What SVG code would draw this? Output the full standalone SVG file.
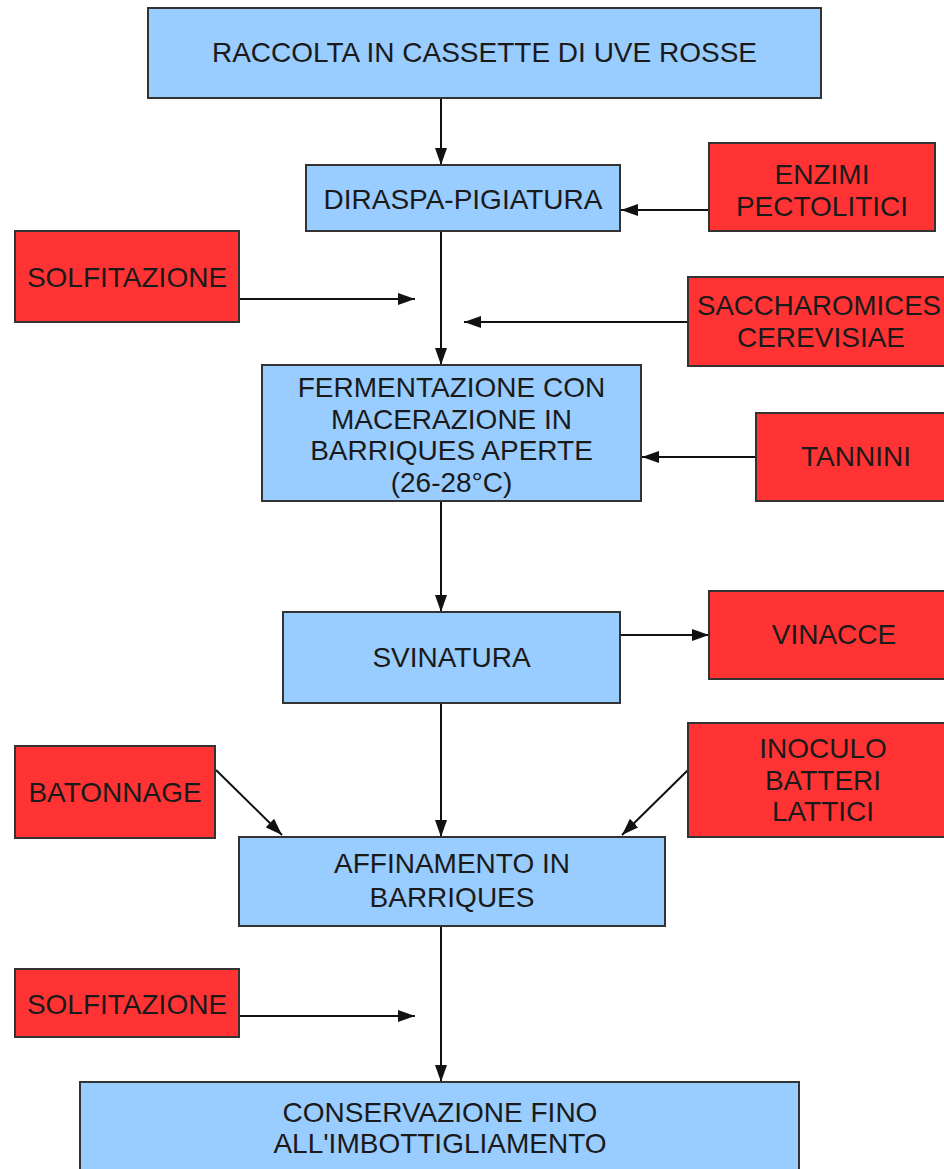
<svg xmlns="http://www.w3.org/2000/svg" width="944" height="1169" viewBox="0 0 944 1169">
<style>
.blue{fill:#99ccff;stroke:#333;stroke-width:2}
.red{fill:#ff3333;stroke:#333;stroke-width:2}
text{font-family:"Liberation Sans",Arial,sans-serif;font-size:28px;fill:#1a1a1a;text-anchor:middle}
.c{stroke:#111;stroke-width:2;fill:none;marker-end:url(#ah)}
</style>
<defs>
<marker id="ah" markerUnits="userSpaceOnUse" markerWidth="18" markerHeight="12" refX="17" refY="6" orient="auto">
<path d="M0,0 L17,6 L0,12 z" fill="#111"/>
</marker>
</defs>
<rect width="944" height="1169" fill="#fff"/>
<g id="connectors">
<line class="c" x1="441" y1="98" x2="441" y2="165"/>
<line class="c" x1="709" y1="210" x2="621" y2="210"/>
<line class="c" x1="441" y1="231" x2="441" y2="365"/>
<line class="c" x1="239" y1="299" x2="415" y2="299"/>
<line class="c" x1="688" y1="322" x2="464" y2="322"/>
<line class="c" x1="756" y1="457" x2="642" y2="457"/>
<line class="c" x1="441" y1="501" x2="441" y2="612"/>
<line class="c" x1="620" y1="635" x2="709" y2="635"/>
<line class="c" x1="441" y1="703" x2="441" y2="837"/>
<line class="c" x1="216" y1="770" x2="282" y2="835"/>
<line class="c" x1="688" y1="770" x2="622" y2="835"/>
<line class="c" x1="441" y1="926" x2="441" y2="1082"/>
<line class="c" x1="239" y1="1016" x2="415" y2="1016"/>
</g>
<g id="n1"><rect class="blue" x="148" y="8" width="673" height="90"/><text x="484.5" y="62">RACCOLTA IN CASSETTE DI UVE ROSSE</text></g>
<g id="n2"><rect class="blue" x="306" y="165" width="314" height="66"/><text x="463" y="209">DIRASPA-PIGIATURA</text></g>
<g id="n3"><rect class="red" x="709" y="143" width="226" height="88"/><text x="822" y="184">ENZIMI</text><text x="822" y="216">PECTOLITICI</text></g>
<g id="n4"><rect class="red" x="15" y="231" width="224" height="91"/><text x="127" y="287">SOLFITAZIONE</text></g>
<g id="n5"><rect class="red" x="688" y="277" width="270" height="89"/><text x="819" y="315" textLength="244" lengthAdjust="spacingAndGlyphs">SACCHAROMICES</text><text x="821" y="347">CEREVISIAE</text></g>
<g id="n6"><rect class="blue" x="262" y="365" width="379" height="136"/><text x="451.5" y="397">FERMENTAZIONE CON</text><text x="451.5" y="428.5">MACERAZIONE IN</text><text x="451.5" y="460">BARRIQUES APERTE</text><text x="451.5" y="491.5">(26-28°C)</text></g>
<g id="n7"><rect class="red" x="756" y="413" width="200" height="88"/><text x="856" y="466">TANNINI</text></g>
<g id="n8"><rect class="blue" x="283" y="612" width="337" height="91"/><text x="451.5" y="667">SVINATURA</text></g>
<g id="n9"><rect class="red" x="709" y="591" width="250" height="88"/><text x="834" y="644">VINACCE</text></g>
<g id="n10"><rect class="red" x="15" y="746" width="200" height="92"/><text x="115" y="802">BATONNAGE</text></g>
<g id="n11"><rect class="red" x="688" y="723" width="272" height="114"/><text x="823" y="758">INOCULO</text><text x="823" y="790">BATTERI</text><text x="823" y="821">LATTICI</text></g>
<g id="n12"><rect class="blue" x="239" y="837" width="426" height="89"/><text x="452" y="873">AFFINAMENTO IN</text><text x="452" y="907">BARRIQUES</text></g>
<g id="n13"><rect class="red" x="15" y="969" width="224" height="68"/><text x="127" y="1014">SOLFITAZIONE</text></g>
<g id="n14"><rect class="blue" x="80" y="1082" width="719" height="100"/><text x="440" y="1122">CONSERVAZIONE FINO</text><text x="440" y="1153">ALL'IMBOTTIGLIAMENTO</text></g>
</svg>
